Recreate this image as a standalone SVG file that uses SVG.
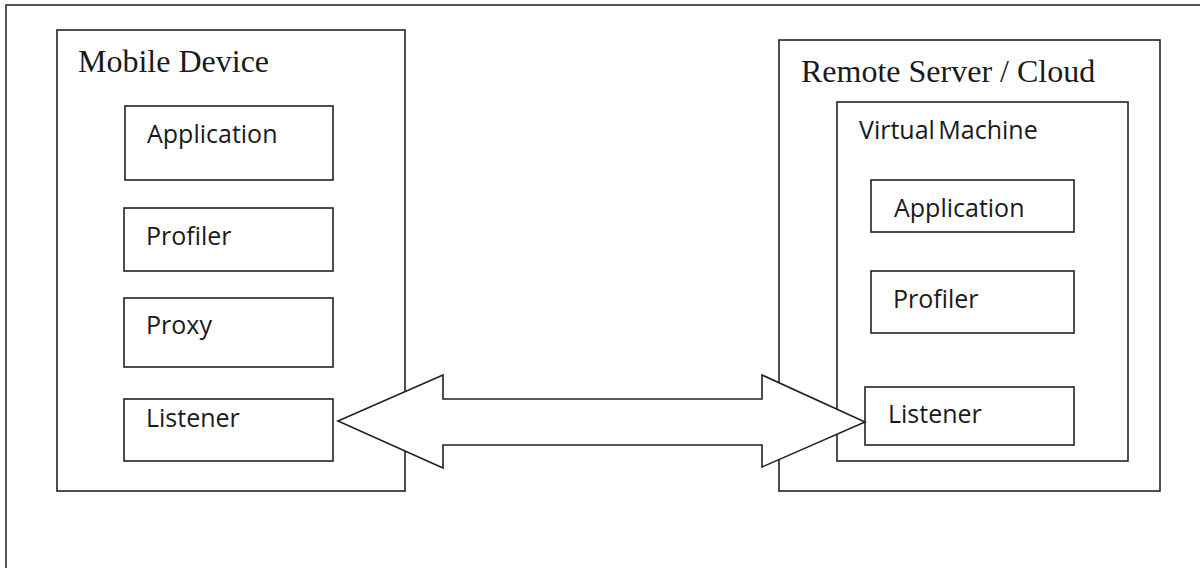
<svg xmlns="http://www.w3.org/2000/svg" width="1200" height="568" viewBox="0 0 1200 568">
  <style>
    .box { fill: #fff; stroke: #222; stroke-width: 1.6; }
    .frame { fill: none; stroke: #444; stroke-width: 1.8; }
    .title { font-family: "Liberation Serif", "Times New Roman", serif; font-size: 32px; fill: #1a1a1a; }
    .label { font-family: "Open Sans", "Noto Sans", sans-serif; font-size: 25px; fill: #1a1a1a; }
    .link { fill: #fff; stroke: #222; stroke-width: 1.6; stroke-linejoin: miter; }
  </style>

  <!-- page frame, running off the right and bottom edges -->
  <rect class="frame" x="6" y="5" width="1220" height="600"/>

  <g id="mobile-device">
    <rect class="box" x="57" y="30" width="348" height="461"/>
    <text class="title" x="78" y="72">Mobile Device</text>
  </g>
  <g id="mobile-application">
    <rect class="box" x="125" y="106" width="208" height="74"/>
    <text class="label" x="147" y="143">Application</text>
  </g>
  <g id="mobile-profiler">
    <rect class="box" x="124" y="208" width="209" height="63"/>
    <text class="label" x="146" y="245">Profiler</text>
  </g>
  <g id="mobile-proxy">
    <rect class="box" x="124" y="298" width="209" height="69"/>
    <text class="label" x="146" y="334">Proxy</text>
  </g>
  <g id="mobile-listener">
    <rect class="box" x="124" y="399" width="209" height="62"/>
    <text class="label" x="146" y="427">Listener</text>
  </g>

  <g id="remote-server">
    <rect class="box" x="779" y="40" width="381" height="451"/>
    <text class="title" x="801" y="82">Remote Server / Cloud</text>
  </g>
  <g id="virtual-machine">
    <rect class="box" x="837" y="102" width="291" height="359"/>
    <text class="label" x="859" y="139" word-spacing="-3">Virtual Machine</text>
  </g>
  <g id="vm-application">
    <rect class="box" x="871" y="180" width="203" height="52"/>
    <text class="label" x="894" y="217">Application</text>
  </g>
  <g id="vm-profiler">
    <rect class="box" x="871" y="271" width="203" height="62"/>
    <text class="label" x="893" y="308">Profiler</text>
  </g>
  <g id="vm-listener">
    <rect class="box" x="865" y="387" width="209" height="58"/>
    <text class="label" x="888" y="423">Listener</text>
  </g>

  <!-- two-way block arrow between the listeners -->
  <g id="connectors">
    <polygon class="link" points="338,421 443,375 443,399 762,399 762,375 865,422 762,467 762,445 443,445 443,468"/>
  </g>
</svg>
